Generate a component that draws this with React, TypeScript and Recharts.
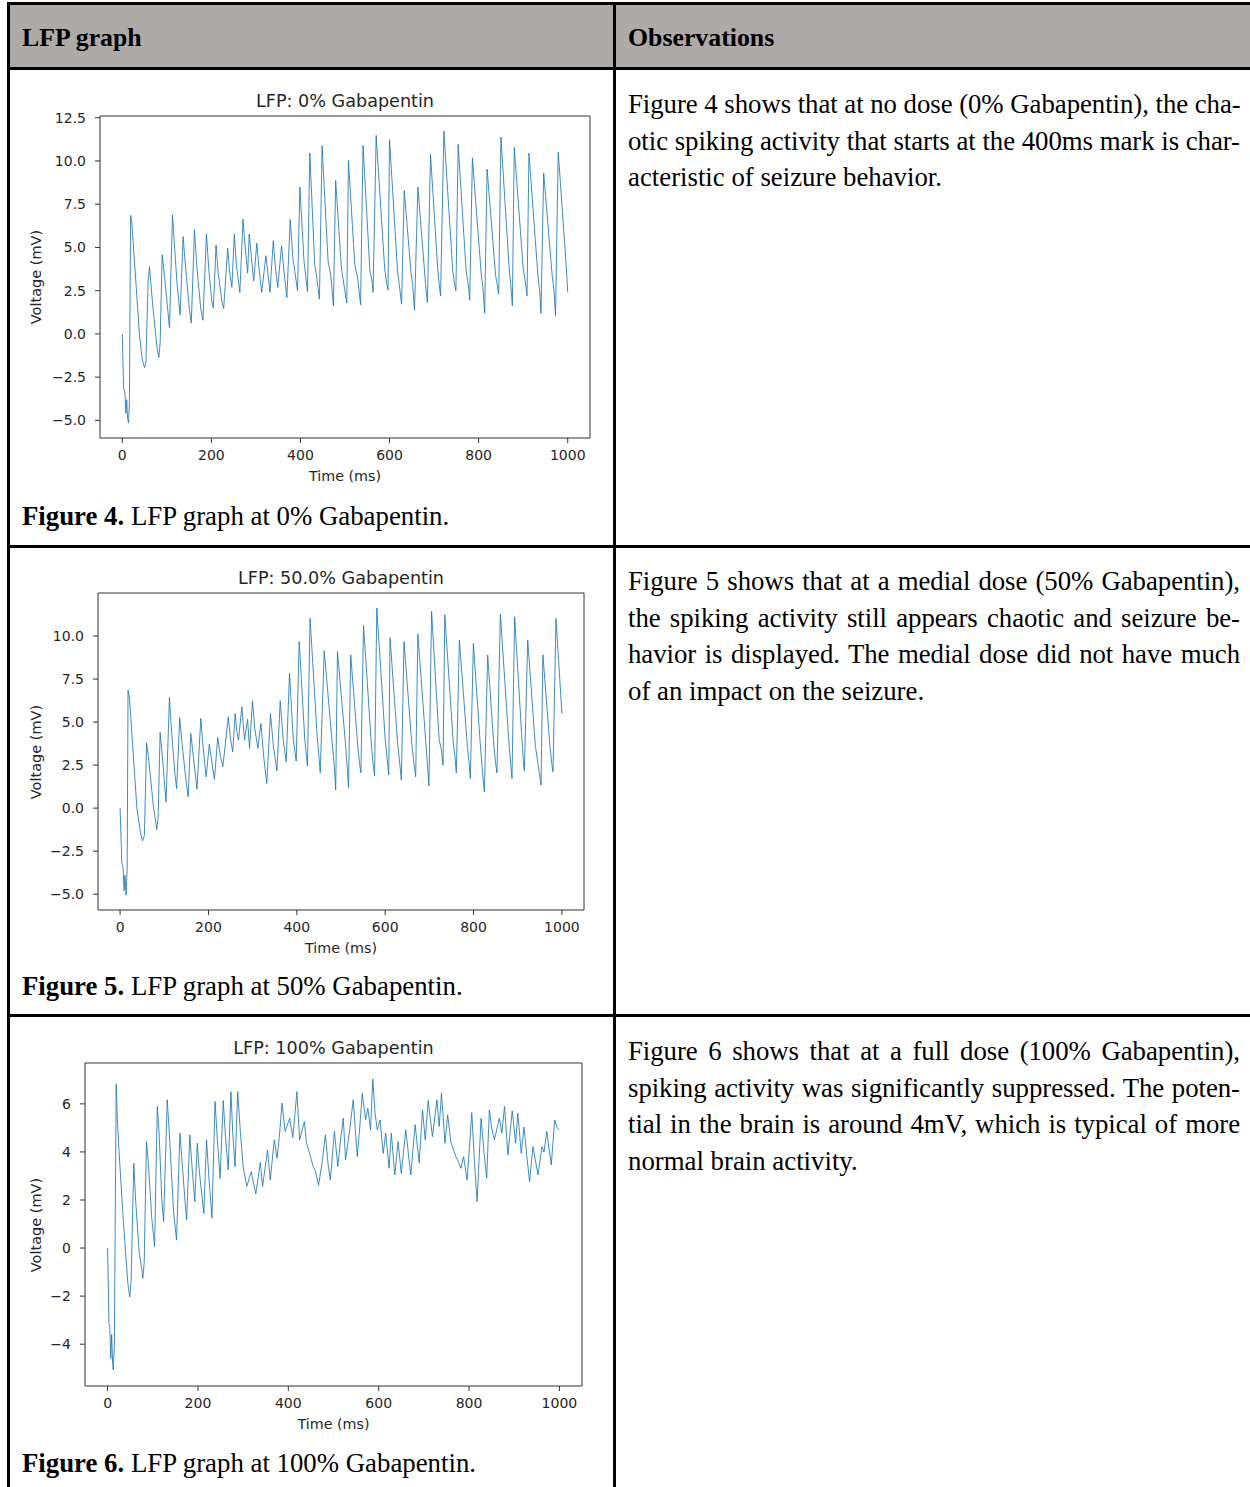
import React from 'react';
import { LineChart, Line, XAxis, YAxis, ReferenceArea } from 'recharts';

// ---------- Data: LFP at 0% Gabapentin ----------
const lfp0Time = [0, 3, 6, 8, 10, 12, 14, 16, 18.7, 21, 39, 45, 50, 53, 58, 61, 69, 78, 82, 85, 89.6, 95, 104.5, 106, 112.7, 117, 123, 130, 136.6, 140, 150, 155, 162, 167, 176, 181, 189, 194, 201, 204.5, 210.5, 215, 224, 227.7, 236.6, 241, 246, 251.6, 256, 264, 271, 276, 281.5, 285, 290, 295, 302, 307, 313, 322.5, 327, 331.5, 339, 344, 349, 357.6, 363, 369.5, 377, 383, 393.5, 398.6, 408, 415.8, 421, 432, 437, 442.6, 448.6, 462, 468, 474, 479, 492, 504, 507.7, 522, 528, 535, 540.5, 556, 560, 563, 570, 589, 593, 596.5, 600, 618, 622, 627, 633, 648, 652, 656, 663.6, 678, 681, 685, 692, 708, 711, 714.5, 722, 742, 746, 749, 754, 772, 777, 780, 786, 806, 810, 813.6, 819, 838, 842, 845, 850, 869, 872, 875.7, 880, 900, 905, 908.6, 913, 933, 937, 940, 946, 965, 969, 972.6, 978.7, 997, 1000];
const lfp0Volt = [0, -3.1, -3.4, -4.6, -3.8, -4.9, -5.15, -4.0, 6.85, 6.6, -0.2, -1.5, -1.95, -1.7, 3.0, 3.89, 1.5, -0.8, -1.37, -0.5, 4.58, 3.3, 0.75, 0.37, 6.88, 5.2, 2.88, 1.1, 5.63, 4.5, 1.6, 0.62, 6.03, 4.0, 1.5, 0.79, 5.78, 3.8, 1.9, 1.49, 5.14, 3.6, 1.8, 1.47, 4.97, 3.6, 2.69, 5.78, 4.0, 2.4, 6.63, 5.0, 3.52, 5.78, 4.4, 3.07, 5.24, 3.8, 2.4, 4.52, 3.5, 2.4, 5.39, 3.8, 2.69, 5.1, 3.6, 2.1, 6.63, 4.4, 2.5, 8.49, 4.2, 2.44, 10.46, 4.0, 3.2, 2.01, 10.87, 4.2, 3.4, 1.62, 8.87, 3.8, 1.78, 10.03, 4.0, 3.3, 1.68, 10.9, 3.6, 3.2, 2.4, 11.48, 3.8, 3.0, 2.53, 11.23, 3.6, 2.8, 1.72, 8.29, 3.6, 2.8, 1.37, 8.49, 3.8, 2.8, 1.82, 10.38, 3.8, 3.0, 2.2, 11.73, 3.6, 2.9, 2.49, 10.96, 3.6, 2.8, 1.95, 10.17, 3.4, 2.6, 1.2, 9.53, 3.4, 2.8, 2.3, 11.39, 3.6, 2.9, 1.62, 10.77, 3.8, 3.0, 2.2, 10.46, 3.4, 2.5, 1.18, 9.3, 3.4, 2.6, 1.04, 10.52, 3.8, 2.4];

// ---------- Data: LFP at 50% Gabapentin ----------
const lfp50Time = [0, 4, 7, 9, 11, 13.6, 16, 18, 21, 38, 46, 50.6, 55, 60, 64, 75, 83, 86, 90.6, 95, 102, 104, 111.7, 115, 124, 128, 135, 140, 150, 154, 160, 164, 172, 174, 182.7, 187, 193, 194.8, 202, 208, 213.6, 221, 227, 232.6, 245, 250, 255, 260.5, 264, 268, 275.6, 279, 281.6, 288.5, 293, 299.7, 305, 311.8, 318.7, 325, 332, 340.4, 347, 355, 362.4, 369, 376, 383.5, 392, 398.6, 405.4, 418, 424, 430, 446, 450, 453, 462, 480, 485, 488, 492, 510, 514, 517, 522, 538, 542, 545, 551, 569, 573, 576, 581, 600, 604, 608, 611, 628, 633, 636.6, 642.6, 660, 665, 669, 674, 692, 696, 699, 705, 722, 727, 731, 735, 754, 758, 761, 768, 786, 790, 792.7, 799.6, 815, 820, 824.5, 832, 846, 850, 853, 860.7, 880, 884, 887, 893, 910, 913, 915, 922.6, 940, 948, 952.8, 957, 973, 977, 979.8, 986.6, 1000];
const lfp50Volt = [0, -3.18, -3.5, -4.8, -3.9, -5.06, -3.5, 6.86, 6.5, 0.0, -1.4, -1.9, -1.6, 3.8, 3.0, 0.2, -1.24, -0.6, 4.4, 3.2, 1.0, 0.35, 6.43, 5.0, 2.0, 1.14, 5.25, 3.8, 1.4, 0.66, 4.34, 3.4, 1.6, 1.1, 5.21, 3.8, 2.2, 1.82, 3.72, 2.6, 1.67, 4.11, 3.0, 2.4, 5.31, 4.0, 3.27, 5.5, 4.5, 3.95, 5.89, 4.8, 3.95, 5.16, 3.47, 6.24, 4.6, 3.47, 4.92, 3.0, 1.43, 5.5, 3.6, 2.17, 6.24, 4.0, 2.69, 7.83, 4.0, 2.73, 9.67, 4.0, 2.44, 11.03, 4.2, 3.0, 2.05, 9.15, 3.8, 2.4, 1.05, 9.09, 3.8, 2.4, 1.2, 8.9, 3.6, 2.6, 2.05, 10.6, 3.6, 2.5, 1.86, 11.63, 4.0, 3.0, 1.92, 9.9, 3.8, 2.6, 1.63, 9.67, 3.8, 2.6, 1.82, 10.12, 3.8, 2.4, 1.28, 11.45, 4.0, 3.4, 2.5, 11.24, 3.8, 3.0, 2.05, 9.77, 3.6, 2.6, 1.72, 9.57, 3.8, 2.2, 0.95, 8.9, 3.6, 2.6, 2.05, 11.28, 3.8, 2.6, 1.72, 11.12, 3.8, 2.6, 2.17, 9.77, 3.6, 2.2, 1.34, 8.9, 3.6, 2.6, 2.11, 11.03, 5.5];

// ---------- Data: LFP at 100% Gabapentin ----------
const lfp100Time = [0, 3, 5, 7, 9, 11, 12.5, 15, 19, 22, 27, 34, 41, 45, 49, 52, 58, 62, 70, 75, 78, 81, 86, 90, 98, 104, 110, 114, 120, 124, 132, 136, 146, 152.6, 160, 164, 172, 175, 182, 186, 193, 198.5, 203, 213, 219, 224, 231, 237.8, 242, 249, 256, 261, 267, 273, 277, 282, 288, 294, 300, 308, 318, 328, 338, 343, 354, 360, 369, 375, 380, 386, 393, 403, 410, 419, 425, 435.6, 440, 447, 455, 460, 467, 475, 482, 488, 493, 502, 509.6, 515, 521.6, 526.7, 535, 543.7, 548, 552.6, 558, 563.7, 571, 576, 582, 587, 592, 597, 603, 610, 615.6, 623, 628, 635.6, 643, 650, 660, 671, 680.7, 689.6, 697, 703, 709.6, 719, 729, 734, 739, 746.7, 752.6, 760, 771, 776, 782, 788, 795.6, 801, 806, 812, 817.8, 822, 826.7, 833, 839, 845, 850, 856, 867, 872.6, 878.5, 886, 895.6, 903, 908, 915.6, 921.5, 928, 934, 941.5, 952.6, 961.5, 966, 972, 982, 989.6, 995, 1000];
const lfp100Volt = [0, -3.14, -3.3, -4.6, -3.6, -4.7, -5.08, -4.0, 6.82, 5.2, 3.5, 1.4, -0.5, -1.5, -2.03, -1.4, 3.53, 2.0, -0.2, -0.8, -1.26, -0.6, 4.43, 3.6, 1.2, 0.06, 5.89, 4.8, 2.0, 1.1, 6.17, 5.0, 1.5, 0.33, 4.78, 3.8, 1.8, 1.17, 4.71, 3.6, 1.93, 4.36, 3.2, 1.44, 4.5, 3.0, 1.24, 6.1, 4.8, 2.9, 6.14, 4.6, 3.25, 6.51, 4.8, 3.39, 6.51, 4.8, 3.4, 2.56, 3.18, 2.25, 3.56, 2.56, 4.08, 2.83, 4.5, 3.74, 4.6, 6.03, 4.85, 5.4, 4.6, 6.51, 4.5, 5.26, 4.4, 3.94, 3.4, 3.2, 2.62, 3.6, 4.71, 3.5, 2.83, 4.85, 3.39, 4.4, 5.4, 3.67, 4.8, 6.17, 5.0, 3.8, 5.0, 6.44, 5.33, 5.82, 4.92, 7.03, 5.6, 4.92, 5.33, 3.94, 4.78, 3.32, 4.78, 3.04, 4.43, 3.11, 4.92, 3.04, 5.13, 3.53, 5.75, 4.5, 6.14, 4.64, 6.17, 5.06, 6.44, 4.36, 5.54, 4.4, 3.8, 3.6, 3.32, 3.8, 2.83, 4.2, 5.64, 3.6, 1.93, 3.6, 5.4, 4.0, 2.9, 5.75, 5.0, 4.5, 5.4, 4.78, 5.89, 3.88, 5.71, 4.36, 5.61, 3.94, 5.03, 3.8, 2.76, 4.22, 3.04, 4.22, 4.0, 4.85, 3.46, 5.33, 5.0, 4.92];

// ---------- Axis ticks & labels ----------
const timeTicks = [0, 200, 400, 600, 800, 1000];
const voltTicks0 = [-5, -2.5, 0, 2.5, 5, 7.5, 10, 12.5];
const voltTicks50 = [-5, -2.5, 0, 2.5, 5, 7.5, 10];
const voltTicks100 = [-4, -2, 0, 2, 4, 6];
const chartTitles = ['LFP: 0% Gabapentin', 'LFP: 50.0% Gabapentin', 'LFP: 100% Gabapentin'];
const xLabel = 'Time (ms)';
const yLabel = 'Voltage (mV)';

const headers = ['LFP graph', 'Observations'];
const captions = [
  ['Figure 4.', ' LFP graph at 0% Gabapentin.'],
  ['Figure 5.', ' LFP graph at 50% Gabapentin.'],
  ['Figure 6.', ' LFP graph at 100% Gabapentin.'],
];
const observations = [
  ['Figure 4 shows that at no dose (0% Gabapentin), the cha-', 'otic spiking activity that starts at the 400ms mark is char-', 'acteristic of seizure behavior.'],
  ['Figure 5 shows that at a medial dose (50% Gabapentin),', 'the spiking activity still appears chaotic and seizure be-', 'havior is displayed. The medial dose did not have much', 'of an impact on the seizure.'],
  ['Figure 6 shows that at a full dose (100% Gabapentin),', 'spiking activity was significantly suppressed. The poten-', 'tial in the brain is around 4mV, which is typical of more', 'normal brain activity.'],
];

const toRows = (ts: number[], vs: number[]) => ts.map((t, i) => ({ t, v: vs[i] }));
const fmt1 = (v: number) => (v < 0 ? '\u2212' : '') + Math.abs(v).toFixed(1);
const fmt0 = (v: number) => (v < 0 ? '\u2212' : '') + Math.abs(v).toFixed(0);

const MPL_FONT = '"DejaVu Sans", sans-serif';
const SERIF = '"Liberation Serif", "Times New Roman", serif';
const TXT = '#262626';

type ChartCfg = {
  data: { t: number; v: number }[];
  plot: { l: number; t: number; r: number; b: number };
  yDomain: [number, number];
  yTicks: number[];
  fmt: (v: number) => string;
  title: string;
};

const X_DOMAIN: [number, number] = [-50, 1050];

function Centered({ x, y, rotate = 0, style, children }: any) {
  return (
    <div
      style={{
        position: 'absolute',
        left: x,
        top: y,
        transform: `translate(-50%, -50%) rotate(${rotate}deg)`,
        whiteSpace: 'nowrap',
        lineHeight: 1,
        ...style,
      }}
    >
      {children}
    </div>
  );
}

function LfpChart({ cfg }: { cfg: ChartCfg }) {
  const { plot } = cfg;
  const yW = 60;
  const padT = 10;
  const padR = 10;
  const xH = 40;
  const left = plot.l - yW;
  const top = plot.t - padT;
  const width = plot.r - plot.l + yW + padR;
  const height = plot.b - plot.t + padT + xH;
  const cx = (plot.l + plot.r) / 2;
  const cy = (plot.t + plot.b) / 2;
  const tickStyle = { fontFamily: MPL_FONT, fontSize: 14, fill: TXT };
  return (
    <>
      <Centered x={cx} y={plot.t - 14} style={{ fontFamily: MPL_FONT, fontSize: 17.6, color: TXT }}>
        {cfg.title}
      </Centered>
      <Centered x={cx} y={plot.b + 38} style={{ fontFamily: MPL_FONT, fontSize: 14.3, color: TXT }}>
        {xLabel}
      </Centered>
      <Centered x={36} y={cy} rotate={-90} style={{ fontFamily: MPL_FONT, fontSize: 14.5, color: TXT }}>
        {yLabel}
      </Centered>
      <div style={{ position: 'absolute', left, top }}>
        <LineChart
          width={width}
          height={height}
          data={cfg.data}
          margin={{ top: padT, right: padR, left: 0, bottom: 0 }}
        >
          <XAxis
            dataKey="t"
            type="number"
            domain={X_DOMAIN}
            allowDataOverflow
            ticks={timeTicks}
            height={xH}
            axisLine={false}
            tickLine={{ stroke: '#333' }}
            tickSize={5}
            tickMargin={7}
            tick={tickStyle}
            interval={0}
          />
          <YAxis
            type="number"
            domain={cfg.yDomain}
            allowDataOverflow
            ticks={cfg.yTicks}
            width={yW}
            axisLine={false}
            tickLine={{ stroke: '#333' }}
            tickSize={5}
            tickMargin={9}
            tick={tickStyle}
            tickFormatter={cfg.fmt}
            interval={0}
          />
          <ReferenceArea
            x1={X_DOMAIN[0]}
            x2={X_DOMAIN[1]}
            y1={cfg.yDomain[0]}
            y2={cfg.yDomain[1]}
            fill="none"
            stroke="#333"
            strokeWidth={1}
            ifOverflow="visible"
          />
          <Line
            type="linear"
            dataKey="v"
            stroke="#1f77b4"
            strokeWidth={0.85}
            dot={false}
            isAnimationActive={false}
          />
        </LineChart>
      </div>
    </>
  );
}

const charts: ChartCfg[] = [
  {
    data: toRows(lfp0Time, lfp0Volt),
    plot: { l: 100, t: 116, r: 590, b: 438 },
    yDomain: [-6.02, 12.6],
    yTicks: voltTicks0,
    fmt: fmt1,
    title: chartTitles[0],
  },
  {
    data: toRows(lfp50Time, lfp50Volt),
    plot: { l: 98, t: 593, r: 584, b: 910 },
    yDomain: [-5.92, 12.5],
    yTicks: voltTicks50,
    fmt: fmt1,
    title: chartTitles[1],
  },
  {
    data: toRows(lfp100Time, lfp100Volt),
    plot: { l: 85, t: 1063, r: 582, b: 1386 },
    yDomain: [-5.74, 7.7],
    yTicks: voltTicks100,
    fmt: fmt0,
    title: chartTitles[2],
  },
];

const rowLines = [67, 545, 1014];
const captionY = [516, 986, 1463];
const obsTop = [86, 563, 1033];
const LINE_H = 36.5;
const BODY_SIZE = 26.8;

function Rule({ l, t, w, h }: { l: number; t: number; w: number; h: number }) {
  return <div style={{ position: 'absolute', left: l, top: t, width: w, height: h, background: '#000' }} />;
}

export default function App() {
  return (
    <div style={{ position: 'absolute', left: 0, top: 0, width: 1250, height: 1487, background: '#fff', overflow: 'hidden' }}>
      {/* header background */}
      <div style={{ position: 'absolute', left: 9, top: 5, width: 1241, height: 62, background: '#adaaa8' }} />
      {/* borders */}
      <Rule l={7} t={2} w={1243} h={3} />
      <Rule l={7} t={2} w={3} h={1485} />
      <Rule l={613} t={2} w={3} h={1485} />
      {rowLines.map((y, i) => (
        <Rule key={i} l={7} t={y} w={1243} h={3} />
      ))}
      {/* header text */}
      <Centered x={22} y={38} style={{ transform: 'translate(0, -50%)', fontFamily: SERIF, fontWeight: 'bold', fontSize: 25.8, color: '#000' }}>
        {headers[0]}
      </Centered>
      <Centered x={628} y={38} style={{ transform: 'translate(0, -50%)', fontFamily: SERIF, fontWeight: 'bold', fontSize: 25.8, color: '#000' }}>
        {headers[1]}
      </Centered>

      {charts.map((c, i) => (
        <LfpChart key={i} cfg={c} />
      ))}

      {captions.map((cap, i) => (
        <Centered key={i} x={22} y={captionY[i]} style={{ transform: 'translate(0, -50%)', fontFamily: SERIF, fontSize: BODY_SIZE, color: '#000' }}>
          <b>{cap[0]}</b>
          {cap[1]}
        </Centered>
      ))}

      {observations.map((lines, i) => (
        <div
          key={i}
          style={{ position: 'absolute', left: 628, top: obsTop[i], width: 612, fontFamily: SERIF, fontSize: BODY_SIZE, lineHeight: `${LINE_H}px`, color: '#000' }}
        >
          {lines.map((ln, j) => {
            const last = j === lines.length - 1;
            return (
              <div
                key={j}
                style={{
                  textAlign: last ? 'left' : 'justify',
                  textAlignLast: last ? 'left' : 'justify',
                  letterSpacing: last ? 0 : '-0.05px',
                  whiteSpace: 'nowrap',
                }}
              >
                {ln}
              </div>
            );
          })}
        </div>
      ))}
    </div>
  );
}
